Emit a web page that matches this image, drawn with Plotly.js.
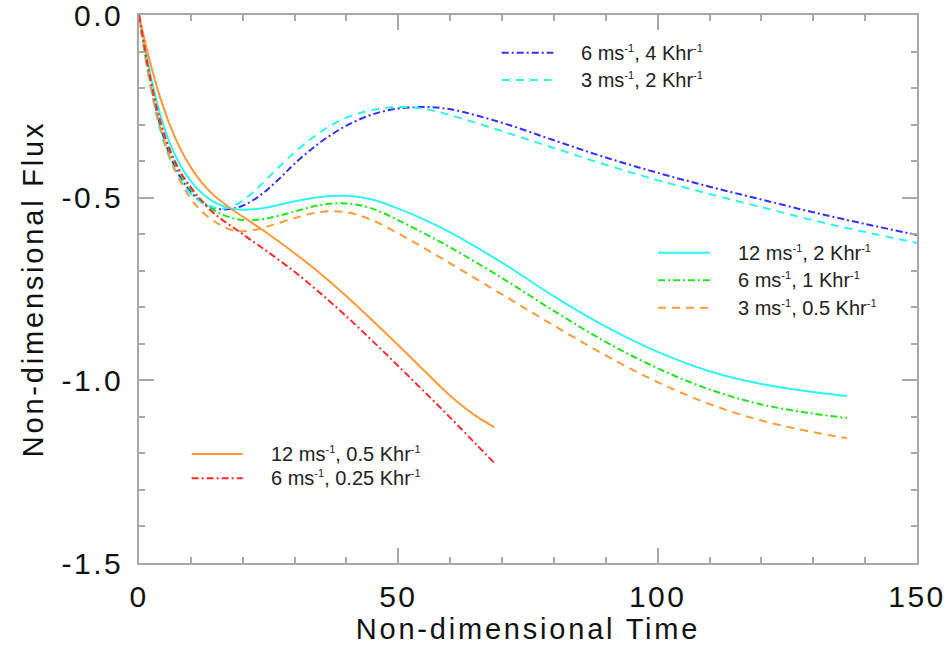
<!DOCTYPE html>
<html>
<head>
<meta charset="utf-8">
<script src="https://cdn.plot.ly/plotly-3.0.1.min.js"></script>
<style>
  html, body { margin: 0; padding: 0; background: #fff; }
  #chart { width: 949px; height: 648px; }
  /* wide, open lettering for the axis text */
  #chart .xtick text, #chart .ytick text { letter-spacing: 2.5px; }
  #chart .xtitle, #chart .ytitle { letter-spacing: 2.8px; }
</style>
</head>
<body>
<div id="chart"></div>
<script>
// Non-dimensional time samples for each run length
const tLong  = [0, 2, 4, 6, 8, 10, 12, 14, 16, 18, 20, 22, 24, 26, 28, 30, 33, 36, 40, 45, 50, 55, 60, 70, 80, 90, 100, 110, 120, 130, 140, 150];
const tMid   = [0, 2, 4, 6, 8, 10, 12, 14, 16, 18, 20, 22, 25, 30, 35, 40, 45, 50, 55, 60, 70, 80, 90, 100, 110, 120, 130, 136.5];
const tShort = [0, 2, 4, 6, 8, 10, 12, 14, 16, 18, 20, 22, 25, 30, 35, 40, 45, 50, 55, 60, 65, 68.5];

// Non-dimensional flux for each (wind speed, heating rate) case
const flux_6_4   = [0, -0.17, -0.298, -0.385, -0.445, -0.485, -0.511, -0.526, -0.532, -0.53, -0.522, -0.507, -0.487, -0.462, -0.435, -0.407, -0.37, -0.338, -0.303, -0.272, -0.256, -0.252, -0.258, -0.295, -0.343, -0.39, -0.432, -0.47, -0.505, -0.54, -0.572, -0.602];
const flux_3_2   = [0, -0.18, -0.31, -0.395, -0.452, -0.49, -0.513, -0.525, -0.53, -0.524, -0.508, -0.485, -0.458, -0.43, -0.402, -0.376, -0.341, -0.311, -0.281, -0.26, -0.252, -0.257, -0.274, -0.318, -0.364, -0.41, -0.452, -0.49, -0.526, -0.562, -0.594, -0.624];
const flux_12_2  = [0, -0.15, -0.268, -0.352, -0.412, -0.455, -0.486, -0.508, -0.522, -0.53, -0.533, -0.532, -0.526, -0.51, -0.498, -0.495, -0.505, -0.53, -0.56, -0.595, -0.678, -0.77, -0.853, -0.922, -0.975, -1.01, -1.032, -1.043];
const flux_6_1   = [0, -0.168, -0.29, -0.375, -0.435, -0.478, -0.508, -0.53, -0.546, -0.556, -0.561, -0.561, -0.556, -0.538, -0.52, -0.516, -0.53, -0.562, -0.598, -0.636, -0.72, -0.81, -0.895, -0.967, -1.025, -1.066, -1.091, -1.103];
const flux_3_05  = [0, -0.176, -0.302, -0.392, -0.456, -0.503, -0.536, -0.56, -0.577, -0.589, -0.592, -0.589, -0.578, -0.556, -0.539, -0.54, -0.562, -0.598, -0.638, -0.68, -0.765, -0.85, -0.932, -1.005, -1.065, -1.11, -1.142, -1.158];
const flux_12_05 = [0, -0.122, -0.222, -0.303, -0.367, -0.417, -0.457, -0.488, -0.512, -0.533, -0.552, -0.571, -0.600, -0.652, -0.708, -0.77, -0.836, -0.904, -0.974, -1.042, -1.098, -1.128];
const flux_6_025 = [0, -0.16, -0.285, -0.37, -0.43, -0.472, -0.507, -0.537, -0.56, -0.58, -0.60, -0.62, -0.65, -0.703, -0.762, -0.825, -0.892, -0.961, -1.031, -1.102, -1.175, -1.226];

// Legend labels (small raised -1 exponents)
const INV = '<sup><span style="font-size:11px">-1</span></sup>';
const labels = [
  '6 ms' + INV + ', 4 Khr' + INV,
  '3 ms' + INV + ', 2 Khr' + INV,
  '12 ms' + INV + ', 2 Khr' + INV,
  '6 ms' + INV + ', 1 Khr' + INV,
  '3 ms' + INV + ', 0.5 Khr' + INV,
  '12 ms' + INV + ', 0.5 Khr' + INV,
  '6 ms' + INV + ', 0.25 Khr' + INV
];

const DASHDOT = '7px,3px,2px,3px';
const DASH = '8px,6px';

const series = [
  { x: tLong,  y: flux_6_4,   color: '#3030ff', dash: DASHDOT },
  { x: tLong,  y: flux_3_2,   color: '#30f4f4', dash: DASH },
  { x: tMid,   y: flux_12_2,  color: '#30f4f4', dash: 'solid' },
  { x: tMid,   y: flux_6_1,   color: '#20e620', dash: DASHDOT },
  { x: tMid,   y: flux_3_05,  color: '#ff9a3a', dash: DASH },
  { x: tShort, y: flux_12_05, color: '#ff9a3a', dash: 'solid' },
  { x: tShort, y: flux_6_025, color: '#ff2a2a', dash: DASHDOT }
];

const traces = series.map((s, i) => ({
  type: 'scatter',
  mode: 'lines',
  x: s.x,
  y: s.y,
  name: labels[i],
  line: { color: s.color, dash: s.dash, width: 2, shape: 'spline', smoothing: 1 },
  hoverinfo: 'x+y',
  showlegend: false
}));

// Legend blocks (sample line + label), in paper coordinates
const legendBlocks = [
  { items: [0, 1],    x0: 0.4662, x1: 0.5325, tx: 0.5668, ys: [0.9312, 0.8814] },
  { items: [2, 3, 4], x0: 0.6671, x1: 0.7339, tx: 0.7683, ys: [0.566, 0.516, 0.466] },
  { items: [5, 6],    x0: 0.0677, x1: 0.1333, tx: 0.1684, ys: [0.1989, 0.1546] }
];

const shapes = [];
const annotations = [];
legendBlocks.forEach(b => {
  b.items.forEach((idx, k) => {
    const s = series[idx];
    shapes.push({
      type: 'line', xref: 'paper', yref: 'paper',
      x0: b.x0, x1: b.x1, y0: b.ys[k], y1: b.ys[k],
      line: { color: s.color, width: 2, dash: s.dash }
    });
    annotations.push({
      xref: 'paper', yref: 'paper', x: b.tx, y: b.ys[k],
      xanchor: 'left', yanchor: 'middle', align: 'left', showarrow: false,
      borderpad: 0,
      text: labels[idx],
      font: { family: 'Liberation Sans, Arial, sans-serif', size: 20, color: '#222' }
    });
  });
});

const axisColor = '#a8a8a8';
const tickFont = { family: 'Liberation Sans, Arial, sans-serif', size: 30, color: '#111' };
const titleFont = { family: 'Liberation Sans, Arial, sans-serif', size: 29, color: '#111' };

const layout = {
  width: 949,
  height: 648,
  margin: { l: 139, r: 32, t: 15, b: 85 },
  paper_bgcolor: '#fff',
  plot_bgcolor: '#fff',
  showlegend: false,
  xaxis: {
    range: [0, 150],
    tickvals: [0, 50, 100, 150],
    ticktext: ['0', '50', '100', '150'],
    ticks: 'inside', ticklen: 15, tickwidth: 1.5, tickcolor: axisColor,
    minor: { dtick: 10, ticks: 'inside', ticklen: 6, tickwidth: 1.5, tickcolor: axisColor, showgrid: false },
    showline: true, linecolor: axisColor, linewidth: 1.5, mirror: 'allticks',
    showgrid: false, zeroline: false,
    tickfont: tickFont,
    ticklabeloverflow: 'allow',
    ticklabelstandoff: 6,
    title: { text: 'Non-dimensional Time', font: titleFont, standoff: 4 }
  },
  yaxis: {
    range: [-1.5, 0],
    tickvals: [0, -0.5, -1.0, -1.5],
    ticktext: ['0.0', '-0.5', '-1.0', '-1.5'],
    ticks: 'inside', ticklen: 15, tickwidth: 1.5, tickcolor: axisColor,
    minor: { dtick: 0.1, ticks: 'inside', ticklen: 6, tickwidth: 1.5, tickcolor: axisColor, showgrid: false },
    showline: true, linecolor: axisColor, linewidth: 1.5, mirror: 'allticks',
    showgrid: false, zeroline: false,
    tickfont: tickFont,
    ticklabeloverflow: 'allow',
    ticklabelstandoff: 8,
    title: { text: 'Non-dimensional Flux', font: titleFont, standoff: 19 }
  },
  shapes: shapes,
  annotations: annotations
};

Plotly.newPlot('chart', traces, layout, { displayModeBar: false, responsive: false });
</script>
</body>
</html>
